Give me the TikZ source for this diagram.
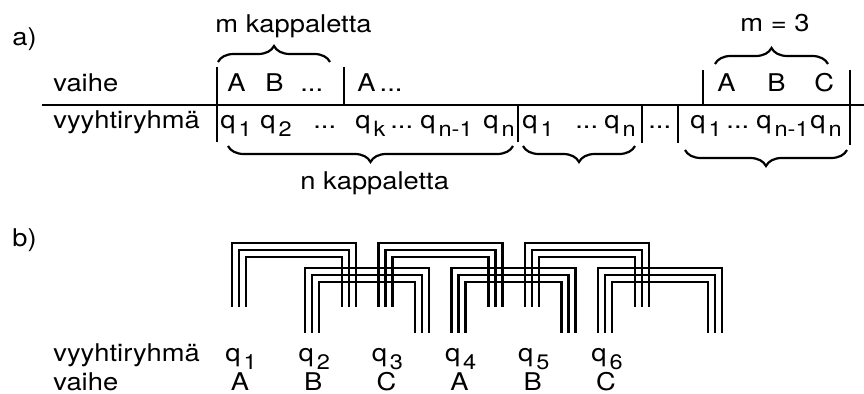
\documentclass[tikz,border=0pt]{standalone}
\usepackage{fontspec}
\setmainfont{TeX Gyre Heros}[FakeStretch=1.12]
\usetikzlibrary{decorations.pathreplacing}

\newcommand{\qi}[1]{q\kern1.5pt\raisebox{-4pt}{\fontsize{10.5}{12}\selectfont#1}}
\newcommand{\ddd}{...}

\tikzset{
  txt/.style={inner sep=0pt,anchor=base west},
  bar/.style={line width=1pt},
  brc/.style={line width=1.1pt,decorate,decoration={brace,amplitude=8pt}},
  coil/.style={line width=1.2pt}
}

\begin{document}
\begin{tikzpicture}[x=0.5pt,y=-0.5pt,font=\fontsize{12.2}{14}\selectfont]
\useasboundingbox (0,0) rectangle (864,394);

% a)
\node[txt] (a) at (12,46) {a)};
\node[txt] (va) at (53,92) {vaihe};
\node[txt] (vy) at (53,129) {vyyhtiryhmä};
\draw[line width=1.2pt] (42,105) -- (864,105);

\foreach \x/\ya/\yb in {217/67/142, 344/67/105, 518/105/142, 642/105/143, 678/105/143, 703/70/105, 850/70/145}
  \draw[bar] (\x,\ya) -- (\x,\yb);

\foreach \x/\t/\n in {227/A/p1, 265/B/p2, 300/\ddd/p3, 357/A\,\ddd/p4, 717/A/p5, 767/B/p6, 814/C/p7}
  \node[txt] (\n) at (\x,92) {\t};

\foreach \x/\t/\n in {220/\qi{1}/q1, 260/\qi{2}/q2, 313/\ddd/d1, 355/\qi{k}/qk, 390/\ddd/d2,
    420/\qi{n-1}/qm, 483/\qi{n}/qn, 522/\qi{1}/r1, 575/\ddd/d3, 604/\qi{n}/rn, 648/\ddd/d4,
    690/\qi{1}/s1, 726/\ddd/d5, 756/\qi{n-1}/sm, 810/\qi{n}/sn}
  \node[txt] (\n) at (\x,129) {\t};

% braces
\coordinate (m1) at (218,62); \coordinate (m2) at (330,62);
\coordinate (k1) at (715,64); \coordinate (k2) at (828,64);
\coordinate (n1) at (228,146); \coordinate (n2) at (513,146);
\coordinate (o1) at (523,146); \coordinate (o2) at (635,146);
\coordinate (t1) at (685,150); \coordinate (t2) at (847,150);
\draw[brc] (m1) -- (m2);
\draw[brc] (k1) -- (k2);
\draw[brc] (n2) -- (n1);
\draw[brc] (o2) -- (o1);
\draw[brc] (t2) -- (t1);
\node[txt] (mk) at (215,33) {m kappaletta};
\node[txt] (m3) at (740,32) {m = 3};
\node[txt] (nk) at (300,190) {n kappaletta};

% b)
\node[txt] (b) at (12,247) {b)};
\foreach \k in {0,...,5} {
  \pgfmathsetmacro\xl{232+73.2*\k}
  \pgfmathsetmacro\ytop{mod(\k,2)==1 ? 268 : 243}
  \pgfmathsetmacro\ybot{mod(\k,2)==1 ? 333 : 307}
  \foreach \j in {0,1,2}
    \draw[coil] (\xl+7*\j,\ybot) |- (\xl+124-7*\j,\ytop+7*\j) -- (\xl+124-7*\j,\ybot);
}
\node[txt] (vy2) at (53,362) {vyyhtiryhmä};
\node[txt] (va2) at (53,391) {vaihe};
\foreach \i/\v in {1/A,2/B,3/C,4/A,5/B,6/C} {
  \node[txt] (g\i) at (225+73.2*\i-73.2,362) {\qi{\i}};
  \node[inner sep=0pt,anchor=base] (f\i) at (240+73.2*\i-73.2,391) {\v};
}
\end{tikzpicture}
\end{document}
